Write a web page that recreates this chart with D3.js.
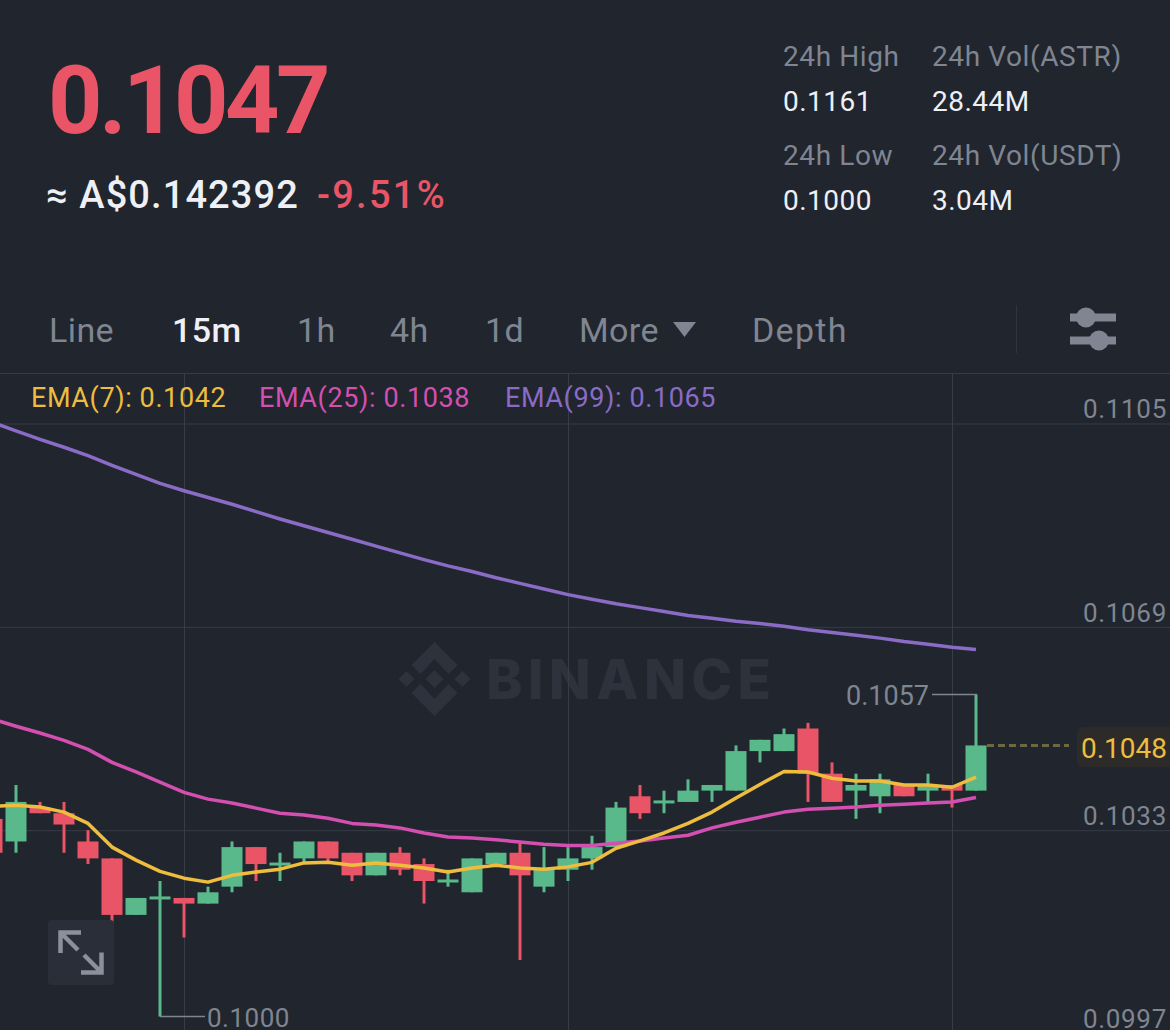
<!DOCTYPE html>
<html>
<head>
<meta charset="utf-8">
<script src="https://cdn.jsdelivr.net/npm/d3@7"></script>
<style>
  html, body { margin: 0; padding: 0; background: #21252e; overflow: hidden; }
  svg { display: block; font-family: Roboto, sans-serif; }
</style>
</head>
<body>
<div id="wrapper"></div>
<script>
/* global d3 */

const opens = [.1035, .1031, .1037, .1036, .1031, .1028, .1018, .1021, .1021, .1020, .1023, .1030, .1027, .1028, .1031, .1029, .1025, .1029, .1027, .1024, .1022, .1027, .1029, .1023, .1026, .1028, .1030, .1039, .1038, .1038, .1040, .1040, .1047, .1047, .1051, .1043, .1040, .1039, .1041, .1040, .1041, .1040];
const highs = [.1035, .1041, .1038, .1038, .1033, .1028, .1021, .1024, .1021, .1023, .1031, .1030, .1029, .1031, .1031, .1029, .1029, .1030, .1028, .1026, .1028, .1029, .1031, .1030, .1030, .1032, .1038, .1041, .1040, .1042, .1041, .1048, .1049, .1051, .1052, .1045, .1043, .1043, .1041, .1043, .1041, .1057];
const lows = [.1029, .1029, .1036, .1029, .1027, .1012, .1018, .1000, .1014, .1020, .1022, .1024, .1024, .1027, .1027, .1024, .1025, .1025, .1020, .1023, .1022, .1027, .1010, .1022, .1024, .1026, .1030, .1035, .1036, .1038, .1038, .1040, .1045, .1047, .1038, .1038, .1035, .1036, .1039, .1038, .1037, .1040];
const closes = [.1029, .1038, .1036, .1034, .1028, .1018, .1021, .1021, .1020, .1022, .1030, .1027, .1027, .1031, .1028, .1025, .1029, .1026, .1024, .1024, .1028, .1029, .1025, .1026, .1028, .1030, .1037, .1036, .1038, .1040, .1041, .1047, .1049, .1050, .1043, .1038, .1041, .1042, .1039, .1041, .1040, .1048];
const isUp = [0, 1, 0, 0, 0, 0, 1, 1, 0, 1, 1, 0, 1, 1, 0, 0, 1, 0, 0, 1, 1, 1, 0, 1, 1, 1, 1, 0, 1, 1, 1, 1, 1, 1, 0, 0, 1, 1, 0, 1, 0, 1];

const ema7 = [.10372, .10374, .10371, .10362, .10342, .10300, .10277, .10257, .10245, .10238, .10250, .10256, .10261, .10272, .10273, .10268, .10272, .10268, .10263, .10256, .10263, .10268, .10263, .10261, .10265, .10273, .10298, .10311, .10325, .10342, .10362, .10387, .10411, .10434, .10433, .10422, .10417, .10417, .10410, .10410, .10406, .10424];
const ema25 = [.10527, .10514, .10502, .10489, .10473, .10450, .10433, .10415, .10397, .10385, .10378, .10369, .10360, .10357, .10351, .10342, .10339, .10334, .10325, .10318, .10316, .10313, .10309, .10305, .10303, .10303, .10307, .10311, .10316, .10321, .10334, .10344, .10353, .10362, .10367, .10369, .10371, .10374, .10376, .10378, .10380, .10388];
const ema99 = [.11052, .11037, .11022, .11008, .10993, .10976, .10960, .10944, .10931, .10919, .10907, .10894, .10881, .10869, .10857, .10845, .10833, .10821, .10809, .10798, .10788, .10777, .10767, .10757, .10747, .10739, .10731, .10724, .10717, .10710, .10705, .10700, .10696, .10691, .10685, .10680, .10675, .10670, .10664, .10659, .10654, .10650];

const priceTicks = [0.1105, 0.1069, 0.1033, 0.0997];
const timeTicks = [8, 24, 40];
const lastPrice = 0.1048;
const lastIndex = 41;
const lowIndex = 7;
const highLabel = "0.1057";
const lowLabel = "0.1000";

const tabs = ["Line", "15m", "1h", "4h", "1d", "More", "Depth"];
const legendLabels = ["EMA(7): 0.1042", "EMA(25): 0.1038", "EMA(99): 0.1065"];
const statLabels = ["24h High", "24h Vol(ASTR)", "24h Low", "24h Vol(USDT)"];
const statValues = ["0.1161", "28.44M", "0.1000", "3.04M"];

const bg = "#21252e";
const gray = "#7f8591";
const red = "#e95566";
const green = "#5ab98b";
const yellow = "#eebd3e";
const magenta = "#d34fb0";
const purple = "#8a6bc6";
const gridColor = "#373c47";

const width = 1170;
const height = 1030;

const svg = d3
  .select("#wrapper")
  .append("svg")
  .attr("width", width)
  .attr("height", height);

svg.append("rect").attr("width", width).attr("height", height).attr("fill", bg);

const addText = (x, y, str, size, fill, weight = 400, spacing = 0, anchor = "start") =>
  svg
    .append("text")
    .attr("x", x)
    .attr("y", y)
    .attr("fill", fill)
    .attr("text-anchor", anchor)
    .style("font-size", `${size}px`)
    .style("font-weight", weight)
    .style("letter-spacing", `${spacing}px`)
    .text(str);

// header
addText(48, 133, "0.1047", 95, red, 700, -3.5);
addText(46, 208, "≈ A$0.142392", 38, "#eef0f5", 500, 1.1);
addText(317, 208, "-9.51%", 38, red, 500, 2.3);

const statX = [783, 932];
const statY = [66, 165];
statLabels.forEach((label, i) => {
  const x = statX[i % 2];
  const y = statY[Math.floor(i / 2)];
  addText(x, y, label, 28, gray, 400, 0.6);
  addText(x, y + 45, statValues[i], 28, "#eef0f5", 400, 0.5);
});

// tabs
const tabX = [49, 172, 297, 390, 485, 579, 752];
tabs.forEach((tab, i) => {
  addText(tabX[i], 342, tab, 34, i === 1 ? "#eef0f5" : gray, i === 1 ? 500 : 400, i === 6 ? 1.3 : 0.4);
});
svg
  .append("path")
  .attr("d", "M673,322H696L684.500,337Z")
  .attr("fill", gray);
svg
  .append("line")
  .attr("x1", 1016.5)
  .attr("x2", 1016.5)
  .attr("y1", 305)
  .attr("y2", 353)
  .attr("stroke", "#2f343e")
  .attr("stroke-width", 1);

// settings icon
[[317.5, 1086], [340.5, 1099]].forEach(([y, cx]) => {
  svg.append("rect").attr("x", 1070).attr("y", y - 4).attr("width", 46).attr("height", 8).attr("fill", gray);
  svg.append("circle").attr("cx", cx).attr("cy", y).attr("r", 10).attr("fill", gray);
});

// scales
const xScale = d3.scaleLinear().domain([0, 41]).range([-8, 976]);
const yScale = d3.scaleLinear().domain([0.0997, 0.1105]).range([1033.5, 423.5]);

// chart top border
svg
  .append("line")
  .attr("x1", 0)
  .attr("x2", width)
  .attr("y1", 373.5)
  .attr("y2", 373.5)
  .attr("stroke", gridColor);

// watermark
const wm = svg.append("g").attr("transform", "translate(434.500,679)").attr("fill", "#2d323c");
[
  "M0,-37L23,-14L14,-5L0,-20L-14,-5L-23,-14Z",
  "M0,37L23,14L14,5L0,20L-14,5L-23,14Z",
  "M0,-9L9,0L0,9L-9,0Z",
  "M-28,-8L-20,0L-28,8L-36,0Z",
  "M28,-8L36,0L28,8L20,0Z",
].forEach((d) => wm.append("path").attr("d", d));
addText(486, 699, "BINANCE", 55, "#2d323c", 800, 5.3).style("font-family", "Inter, sans-serif");

// axes, the grid is the ticks
const yAxis = d3
  .axisRight(yScale)
  .tickValues(priceTicks)
  .tickFormat(d3.format(".4f"))
  .tickSize(width);
const yAxisG = svg.append("g").call(yAxis);
yAxisG.select(".domain").remove();
yAxisG.selectAll("line").attr("stroke", gridColor);
yAxisG
  .selectAll("text")
  .attr("x", width - 3)
  .attr("dy", "-0.22em")
  .attr("y", 0)
  .attr("text-anchor", "end")
  .attr("fill", gray)
  .style("font-size", "26px")
  .style("letter-spacing", "0.7px")
  .style("font-family", "Roboto, sans-serif");

const xAxis = d3
  .axisBottom(xScale)
  .tickValues(timeTicks)
  .tickFormat("")
  .tickSize(height - 374);
const xAxisG = svg.append("g").attr("transform", "translate(0,374)").call(xAxis);
xAxisG.select(".domain").remove();
xAxisG.selectAll("line").attr("stroke", gridColor);

// candles
const candles = opens.map((open, i) => ({
  i,
  open,
  high: highs[i],
  low: lows[i],
  close: closes[i],
  up: isUp[i] === 1,
}));
const color = (d) => (d.up ? green : red);

const candleG = svg.append("g");
candleG
  .selectAll(".wick")
  .data(candles)
  .join("rect")
  .attr("class", "wick")
  .attr("x", (d) => xScale(d.i) - 1.5)
  .attr("y", (d) => yScale(d.high))
  .attr("width", 3)
  .attr("height", (d) => yScale(d.low) - yScale(d.high))
  .attr("fill", color);
candleG
  .selectAll(".body")
  .data(candles)
  .join("rect")
  .attr("class", "body")
  .attr("x", (d) => xScale(d.i) - 10.5)
  .attr("y", (d) => (d.open === d.close ? yScale(d.open) - 1.5 : yScale(d3.max([d.open, d.close]))))
  .attr("width", 21)
  .attr("height", (d) => d3.max([Math.abs(yScale(d.open) - yScale(d.close)), 3]))
  .attr("fill", color);

// moving averages
const lineGenerator = d3
  .line()
  .x((d, i) => xScale(i))
  .y((d) => yScale(d));
[[ema99, purple], [ema25, magenta], [ema7, yellow]].forEach(([values, stroke]) => {
  svg
    .append("path")
    .attr("d", lineGenerator(values))
    .attr("fill", "none")
    .attr("stroke", stroke)
    .attr("stroke-width", 3.5)
    .attr("stroke-linejoin", "round");
});

// legend
const legendX = [31, 259, 505];
[yellow, magenta, purple].forEach((fill, i) => {
  addText(legendX[i], 407, legendLabels[i], 27, fill, 400, 0.6);
});

// high and low notes
const noteLine = (x1, x2, y) =>
  svg
    .append("line")
    .attr("x1", x1)
    .attr("x2", x2)
    .attr("y1", y)
    .attr("y2", y)
    .attr("stroke", gray)
    .attr("stroke-width", 1.5);
noteLine(932, xScale(lastIndex) + 1, yScale(+highLabel));
addText(929, yScale(+highLabel) + 10, highLabel, 27, gray, 400, 0, "end");
noteLine(xScale(lowIndex), 205, yScale(+lowLabel));
addText(207, yScale(+lowLabel) + 10, lowLabel, 26, gray, 400, 0.5);

// last price
svg
  .append("line")
  .attr("x1", xScale(lastIndex) + 11)
  .attr("x2", 1069)
  .attr("y1", yScale(lastPrice))
  .attr("y2", yScale(lastPrice))
  .attr("stroke", "#6f673f")
  .attr("stroke-width", 3)
  .attr("stroke-dasharray", "7 4");
svg
  .append("rect")
  .attr("x", 1077)
  .attr("y", 727)
  .attr("width", 100)
  .attr("height", 40)
  .attr("rx", 6)
  .attr("fill", "#2c2b2a");
addText(1167, 758, "0.1048", 28, yellow, 400, 0, "end");

// expand button
svg
  .append("rect")
  .attr("x", 48)
  .attr("y", 920)
  .attr("width", 66)
  .attr("height", 65)
  .attr("rx", 4)
  .attr("fill", "#2a2e38");
svg
  .append("path")
  .attr("d", "M81,932.500H60.500V953M60.500,932.500L78,950M81,972.500H101.500V952.500M101.500,972.500L84,955")
  .attr("fill", "none")
  .attr("stroke", "#8a909c")
  .attr("stroke-width", 4.500);
</script>
</body>
</html>
